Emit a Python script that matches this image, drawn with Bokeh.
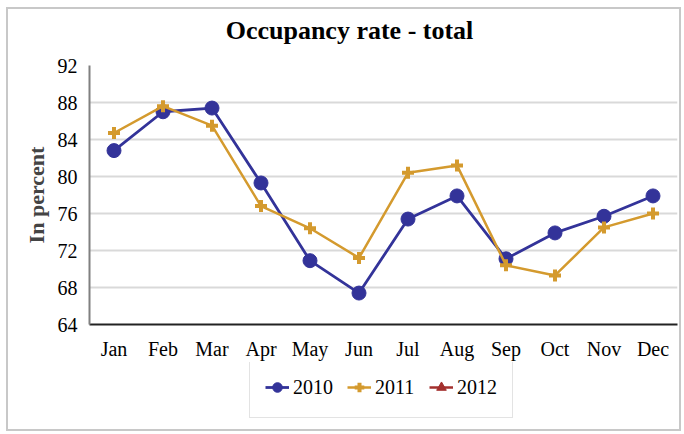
from bokeh.plotting import figure
from bokeh.models import Legend, LegendItem, FixedTicker, Range1d, Label
from bokeh.layouts import column
from bokeh.embed import file_html
from bokeh.resources import INLINE

nan = float("nan")
title_text = "Occupancy rate - total"
months = ["Jan", "Feb", "Mar", "Apr", "May", "Jun", "Jul", "Aug", "Sep", "Oct", "Nov", "Dec"]
rate_2010 = [82.8, 87.0, 87.4, 79.3, 70.9, 67.4, 75.4, 77.9, 71.1, 73.9, 75.7, 77.9]
rate_2011 = [84.7, 87.6, 85.5, 76.8, 74.4, 71.2, 80.4, 81.2, 70.4, 69.3, 74.5, 76.0]
rate_2012 = [nan] * 12  # no 2012 values shown in the chart
y_ticks = [64, 68, 72, 76, 80, 84, 88, 92]

SERIF = "Liberation Serif"
C2010 = "#333399"
C2011 = "#D49A2E"
C2012 = "#A3302E"

# ---- title strip ----
t = figure(x_range=months, y_range=Range1d(0, 1), width=671, height=47,
           output_backend="svg", toolbar_location=None,
           x_axis_type=None, y_axis_type=None, min_border=0)
t.outline_line_color = None
t.grid.grid_line_color = None
t.add_layout(Label(x=260, y=26, x_units="screen", y_units="screen", text=title_text,
                   text_align="center", text_baseline="middle",
                   text_font=SERIF, text_font_size="26px", text_font_style="bold",
                   text_color="black"))

# ---- main chart ----
p = figure(x_range=months, y_range=(64, 92), width=671, height=306,
           output_backend="svg", toolbar_location=None,
           min_border_left=81, min_border_right=2, min_border_top=9, min_border_bottom=38)

p.outline_line_color = None
p.xgrid.grid_line_color = None
p.ygrid.grid_line_color = "#d9d9d9"
p.ygrid.grid_line_width = 2

p.yaxis.ticker = FixedTicker(ticks=y_ticks)
p.yaxis.axis_label = "In percent"
p.yaxis.axis_label_text_font = SERIF
p.yaxis.axis_label_text_font_size = "22px"
p.yaxis.axis_label_text_font_style = "bold"
p.yaxis.axis_label_standoff = 6
p.yaxis.axis_line_color = "#808080"
p.yaxis.axis_line_width = 2
p.xaxis.axis_line_color = "#222222"
p.xaxis.axis_line_width = 2
for ax in (p.xaxis, p.yaxis):
    ax.major_tick_line_color = None
    ax.minor_tick_line_color = None
    ax.major_label_text_font = SERIF
    ax.major_label_text_font_size = "20px"
    ax.major_label_text_color = "black"
p.yaxis.major_label_standoff = 6
p.xaxis.major_label_standoff = 7

p.line(months, rate_2010, line_color=C2010, line_width=2.8)
p.scatter(months, rate_2010, marker="circle", size=14, fill_color=C2010, line_color=C2010)
p.line(months, rate_2011, line_color=C2011, line_width=2.5)
p.scatter(months, rate_2011, marker="cross", size=12, line_color=C2011, line_width=4)
p.line(months, rate_2012, line_color=C2012, line_width=2.5)
p.scatter(months, rate_2012, marker="triangle", size=12, fill_color=C2012, line_color=C2012)

# ---- legend strip ----
q = figure(x_range=months, y_range=Range1d(64, 92), width=671, height=67,
           output_backend="svg", toolbar_location=None,
           x_axis_type=None, y_axis_type=None, min_border=0)
q.outline_line_color = None
q.grid.grid_line_color = None
empty = [nan] * 12
r10 = [q.line(months, empty, line_color=C2010, line_width=2.8),
       q.scatter(months, empty, marker="circle", size=14, fill_color=C2010, line_color=C2010)]
r11 = [q.line(months, empty, line_color=C2011, line_width=2.5),
       q.scatter(months, empty, marker="cross", size=12, line_color=C2011, line_width=4)]
r12 = [q.line(months, empty, line_color=C2012, line_width=2.5),
       q.scatter(months, empty, marker="triangle", size=12, fill_color=C2012, line_color=C2012)]

legend = Legend(items=[LegendItem(label="2010", renderers=r10),
                       LegendItem(label="2011", renderers=r11),
                       LegendItem(label="2012", renderers=r12)],
                orientation="horizontal", location=(160, 11),
                label_text_font=SERIF, label_text_font_size="20px", label_text_color="black",
                glyph_width=24, glyph_height=30, label_height=30, label_width=40,
                label_standoff=4, spacing=14, padding=15, margin=0,
                border_line_color="#c8c8c8", border_line_width=1.5,
                background_fill_alpha=1)
q.add_layout(legend, "center")

layout = column(t, p, q, spacing=0)
layout.styles = {"border": "2px solid #c8c8c8", "margin-left": "6px", "margin-top": "7px"}

open("out.html", "w").write(file_html(layout, INLINE))
